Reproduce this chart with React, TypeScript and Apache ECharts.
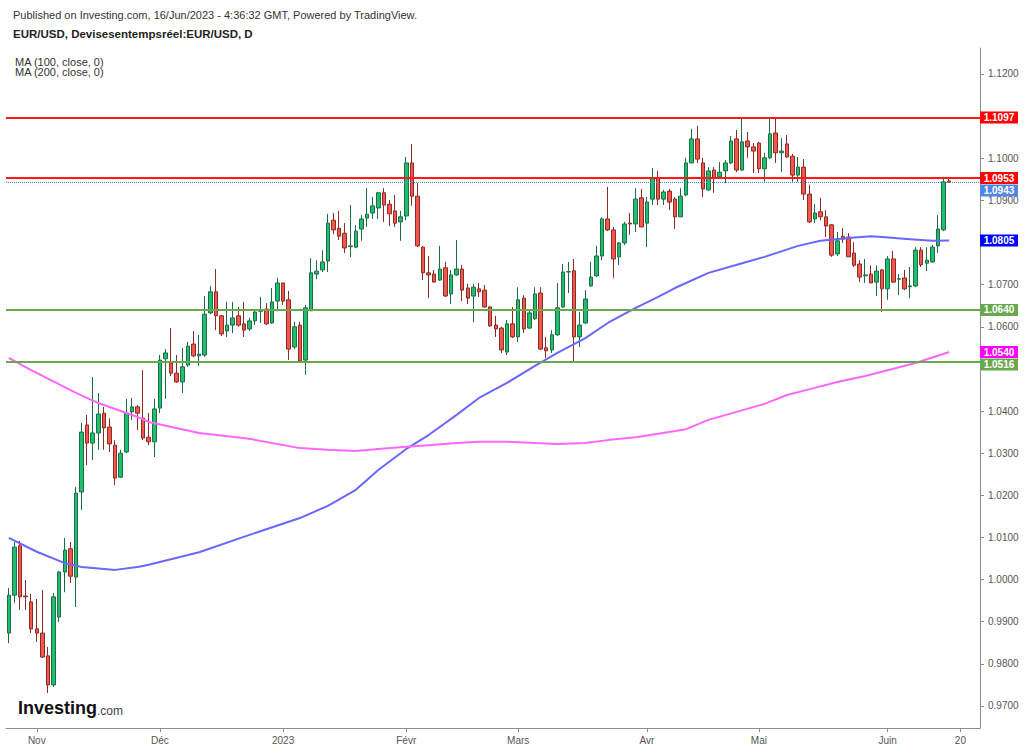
import React, { useEffect, useRef } from "react";
import * as echarts from "echarts";

const FONT = '"Liberation Sans", Arial, sans-serif';

// First trading day drawn and number of empty weekday slots after the last candle
const startDate = "2022-10-25";
const emptySlotsAfter = 5;

// Daily candles: [open, close, low, high]
const candlesOctNov: number[][] = [
  [0.9873, 0.9963, 0.9849, 0.998], [0.9963, 1.0077, 0.9944, 1.0089], [1.008, 0.9959, 0.9928, 1.0092],
  [0.9961, 0.9959, 0.9928, 0.9999], [0.9947, 0.9883, 0.9873, 0.9966], [0.9883, 0.9873, 0.9852, 0.9954],
  [0.9873, 0.9816, 0.9814, 0.9975], [0.9819, 0.975, 0.9731, 0.984], [0.975, 0.9959, 0.9745, 0.9968],
  [0.9911, 1.0018, 0.9899, 1.002], [1.0018, 1.007, 0.997, 1.0099], [1.0073, 1.0008, 0.9992, 1.0089],
  [1.0006, 1.0205, 0.9935, 1.022], [1.0208, 1.035, 1.0165, 1.0372], [1.0367, 1.0324, 1.0272, 1.0391],
  [1.0324, 1.0348, 1.0284, 1.0481], [1.0348, 1.0393, 1.0308, 1.0443], [1.0395, 1.036, 1.0308, 1.041],
  [1.0362, 1.0322, 1.0303, 1.0383], [1.0319, 1.0241, 1.0224, 1.0331], [1.0243, 1.03, 1.0241, 1.0308],
  [1.0303, 1.0395, 1.03, 1.0429], [1.0398, 1.041, 1.0379, 1.0431], [1.041, 1.0395, 1.0355, 1.0414],
  [1.0383, 1.0336, 1.0331, 1.0497], [1.0338, 1.0327, 1.0319, 1.0395], [1.0327, 1.0405, 1.0291, 1.0429],
];
const candlesDec: number[][] = [
  [1.0407, 1.0521, 1.0395, 1.0533], [1.0524, 1.0538, 1.0429, 1.0547], [1.0514, 1.049, 1.0483, 1.0597],
  [1.049, 1.0469, 1.0467, 1.0533], [1.0469, 1.0505, 1.0443, 1.055], [1.0509, 1.0554, 1.0505, 1.0564],
  [1.0559, 1.0531, 1.0528, 1.059], [1.0531, 1.0535, 1.0507, 1.0581], [1.0533, 1.063, 1.0528, 1.0673],
  [1.0633, 1.0683, 1.063, 1.0697], [1.0683, 1.0626, 1.0592, 1.0737], [1.0626, 1.0583, 1.0578, 1.0628],
  [1.059, 1.0604, 1.0576, 1.0659], [1.0604, 1.0621, 1.0585, 1.0659], [1.0626, 1.0604, 1.06, 1.0647],
  [1.0607, 1.0592, 1.0576, 1.0659], [1.0595, 1.0614, 1.059, 1.0621], [1.0614, 1.0635, 1.0604, 1.064],
  [1.0637, 1.0638, 1.0609, 1.0671], [1.0642, 1.0607, 1.0604, 1.0656], [1.0609, 1.0659, 1.0607, 1.0692],
  [1.0661, 1.0704, 1.0637, 1.0716],
];
const candlesJan: number[][] = [
  [1.0704, 1.0661, 1.0652, 1.0704], [1.0664, 1.0547, 1.0521, 1.0685], [1.0552, 1.06, 1.0547, 1.0612],
  [1.0604, 1.0519, 1.0516, 1.0612], [1.0521, 1.0645, 1.0486, 1.0652], [1.0638, 1.0728, 1.0638, 1.0763],
  [1.0725, 1.0732, 1.0713, 1.0758], [1.0735, 1.0754, 1.073, 1.0782], [1.0756, 1.0846, 1.073, 1.0868],
  [1.0853, 1.083, 1.082, 1.087], [1.0834, 1.0815, 1.0806, 1.0875], [1.0822, 1.0787, 1.0775, 1.0846],
  [1.079, 1.0792, 1.0765, 1.0889], [1.0789, 1.0827, 1.0787, 1.0841], [1.0832, 1.0856, 1.0804, 1.0865],
  [1.0858, 1.0867, 1.0837, 1.0929], [1.087, 1.0887, 1.0856, 1.0908], [1.0882, 1.0918, 1.0856, 1.092],
  [1.0918, 1.0889, 1.0849, 1.0929], [1.0891, 1.0868, 1.0839, 1.0901], [1.0875, 1.0846, 1.0837, 1.0913],
  [1.0849, 1.0861, 1.0804, 1.0875],
];
const candlesFeb: number[][] = [
  [1.0863, 1.0989, 1.0853, 1.1003], [1.0989, 1.091, 1.0887, 1.1034], [1.091, 1.0792, 1.0789, 1.0941],
  [1.0789, 1.0728, 1.0711, 1.0792], [1.0728, 1.0723, 1.0668, 1.0768], [1.0725, 1.0706, 1.0706, 1.0735],
  [1.0711, 1.0737, 1.0709, 1.0792], [1.074, 1.0673, 1.0671, 1.0754], [1.0678, 1.0723, 1.0654, 1.0735],
  [1.0723, 1.0737, 1.0721, 1.0806], [1.0737, 1.0687, 1.0661, 1.0747], [1.0692, 1.0668, 1.0654, 1.0702],
  [1.0673, 1.0694, 1.0611, 1.0702], [1.069, 1.0683, 1.0671, 1.0704], [1.0687, 1.0647, 1.0645, 1.0699],
  [1.0647, 1.0602, 1.06, 1.0649], [1.0604, 1.0595, 1.0576, 1.0626], [1.0597, 1.0545, 1.0538, 1.06],
  [1.054, 1.0607, 1.0533, 1.0616], [1.0607, 1.0576, 1.0573, 1.0647],
];
const candlesMar: number[][] = [
  [1.0576, 1.0664, 1.0564, 1.0694], [1.0668, 1.0595, 1.0585, 1.0675], [1.0597, 1.0633, 1.0595, 1.064],
  [1.0619, 1.0678, 1.0616, 1.0694], [1.068, 1.0547, 1.0545, 1.0694], [1.055, 1.0543, 1.0526, 1.0576],
  [1.0545, 1.0581, 1.0538, 1.0592], [1.0581, 1.0645, 1.0578, 1.0704], [1.0647, 1.073, 1.0645, 1.0749],
  [1.073, 1.0731, 1.068, 1.0754], [1.0733, 1.0576, 1.0516, 1.0761], [1.0576, 1.0604, 1.0552, 1.0635],
  [1.0609, 1.0666, 1.0607, 1.0687], [1.0697, 1.0718, 1.0695, 1.0754], [1.0721, 1.0768, 1.0718, 1.0792],
  [1.0768, 1.0856, 1.0758, 1.086], [1.0856, 1.083, 1.0827, 1.0932], [1.083, 1.0761, 1.0716, 1.0837],
  [1.0766, 1.0799, 1.0747, 1.0801], [1.0799, 1.0844, 1.0794, 1.0849], [1.0846, 1.0844, 1.0818, 1.087],
  [1.0844, 1.0903, 1.0825, 1.0929], [1.0906, 1.0837, 1.0837, 1.0927],
];
const candlesApr: number[][] = [
  [1.0846, 1.0896, 1.0789, 1.0908], [1.0903, 1.0953, 1.0889, 1.0977], [1.0953, 1.0903, 1.0889, 1.097],
  [1.0903, 1.092, 1.0889, 1.0925], [1.0922, 1.0896, 1.0877, 1.0927], [1.0903, 1.0861, 1.0832, 1.0908],
  [1.0861, 1.091, 1.0861, 1.0929], [1.0913, 1.0989, 1.091, 1.1001], [1.0989, 1.1046, 1.0989, 1.107],
  [1.1046, 1.0998, 1.0989, 1.1077], [1.0989, 1.0927, 1.0908, 1.1001], [1.0925, 1.097, 1.0922, 1.0979],
  [1.0972, 1.0953, 1.0918, 1.0979], [1.0956, 1.0967, 1.0953, 1.0991], [1.097, 1.0989, 1.0941, 1.0996],
  [1.0989, 1.1041, 1.0986, 1.1053], [1.1046, 1.0972, 1.0967, 1.1067], [1.0972, 1.1039, 1.097, 1.1097],
  [1.1041, 1.1027, 1.1001, 1.1062], [1.1027, 1.1017, 1.0965, 1.1036],
];
const candlesMay: number[][] = [
  [1.1036, 1.0975, 1.0965, 1.1039], [1.0975, 1.1001, 1.0944, 1.1013], [1.1001, 1.1058, 1.0998, 1.1093],
  [1.106, 1.1013, 1.0989, 1.1093], [1.1013, 1.1017, 1.0967, 1.1048], [1.1034, 1.1003, 1.1001, 1.1055],
  [1.1005, 1.096, 1.0944, 1.101], [1.096, 1.0979, 1.0944, 1.1003], [1.0979, 1.0915, 1.0901, 1.0998],
  [1.0915, 1.0849, 1.0846, 1.0937], [1.0856, 1.087, 1.0846, 1.0891], [1.0873, 1.0861, 1.0853, 1.0906],
  [1.0861, 1.0839, 1.0813, 1.0877], [1.0842, 1.077, 1.0766, 1.0844], [1.0773, 1.0804, 1.0768, 1.0825],
  [1.0815, 1.0808, 1.0799, 1.0834], [1.0813, 1.0766, 1.0766, 1.0822], [1.0775, 1.0746, 1.0742, 1.0801],
  [1.0749, 1.0718, 1.0706, 1.0758], [1.0721, 1.0723, 1.0704, 1.0761], [1.0725, 1.0704, 1.0704, 1.0746],
  [1.0706, 1.0732, 1.0673, 1.0746], [1.0735, 1.069, 1.0635, 1.0737],
];
const candlesJun: number[][] = [
  [1.069, 1.0761, 1.0664, 1.0768], [1.0761, 1.0706, 1.0704, 1.078], [1.0713, 1.0714, 1.0675, 1.0725],
  [1.0716, 1.069, 1.0687, 1.0735], [1.0695, 1.0697, 1.0668, 1.0742], [1.0697, 1.0782, 1.0694, 1.0789],
  [1.0782, 1.0747, 1.0742, 1.0789], [1.0751, 1.0758, 1.0732, 1.0789], [1.0754, 1.0789, 1.0752, 1.0794],
  [1.0792, 1.0832, 1.0775, 1.0865], [1.083, 1.0944, 1.0827, 1.0956], [1.0946, 1.0943, 1.0941, 1.0955],
];

// Moving averages: [candle index, value]
const ma100Points: number[][] = [
  [0, 1.0099], [5, 1.0066], [10, 1.0039], [13, 1.003], [19, 1.0023], [23, 1.003], [25, 1.0035],
  [34, 1.0065], [43, 1.0106], [52, 1.0146], [57, 1.0175], [62, 1.0213], [66, 1.026], [71, 1.031],
  [75, 1.0343], [80, 1.0391], [84, 1.0431], [89, 1.0467], [94, 1.0507], [98, 1.0538], [103, 1.0573],
  [107, 1.0609], [112, 1.0645], [116, 1.0671], [119, 1.0692], [125, 1.0728], [131, 1.0751],
  [135, 1.0766], [141, 1.0792], [145, 1.0804], [150, 1.0811], [154, 1.0815], [156, 1.0813],
  [161, 1.0808], [165, 1.0804], [168, 1.0805],
];
const ma200Points: number[][] = [
  [0, 1.0526], [4, 1.0497], [12, 1.0443], [16, 1.0419], [23, 1.0386], [25, 1.0374], [34, 1.0348],
  [43, 1.0334], [52, 1.0312], [57, 1.0308], [62, 1.0305], [66, 1.031], [71, 1.0315], [75, 1.0319],
  [80, 1.0324], [84, 1.0327], [89, 1.0327], [94, 1.0324], [98, 1.0322], [103, 1.0324], [107, 1.0331],
  [112, 1.0338], [116, 1.0346], [121, 1.0357], [125, 1.0379], [130, 1.0398], [135, 1.0417],
  [139, 1.0438], [144, 1.0455], [148, 1.0469], [153, 1.0483], [157, 1.0497], [162, 1.0514], [168, 1.054],
];

// Horizontal levels
const resistanceLevels = [1.1097, 1.0953];
const supportLevels = [1.064, 1.0516];
const lastPrice = 1.0943;
const ma100Last = 1.0805;
const ma200Last = 1.054;

// Axis ticks
const yTickValues = [0.97, 0.98, 0.99, 1.0, 1.01, 1.02, 1.03, 1.04, 1.06, 1.07, 1.09, 1.1, 1.12];
const xTickLabels: Record<string, string> = {
  "2022-11-01": "Nov",
  "2022-12-01": "Déc",
  "2023-01-02": "2023",
  "2023-02-01": "Févr",
  "2023-03-01": "Mars",
  "2023-04-03": "Avr",
  "2023-05-01": "Mai",
  "2023-06-01": "Juin",
  "2023-06-20": "20",
};
const yMin = 0.96477;
const yMax = 1.12617;

const headerLine1 = "Published on Investing.com, 16/Jun/2023 - 4:36:32 GMT, Powered by TradingView.";
const headerLine2 = "EUR/USD, Devisesentempsréel:EUR/USD, D";
const maLegend = ["MA (100, close, 0)", "MA (200, close, 0)"];

const RED = "#ff1a1a";
const GREEN_LEVEL = "#6aa84f";
const LAST_BLUE = "#4f86e8";

function weekdayCategories(start: string, count: number): string[] {
  const out: string[] = [];
  const d = new Date(start + "T00:00:00Z");
  while (out.length < count) {
    const wd = d.getUTCDay();
    if (wd !== 0 && wd !== 6) out.push(d.toISOString().slice(0, 10));
    d.setUTCDate(d.getUTCDate() + 1);
  }
  return out;
}

function toSlots(points: number[][], n: number): (number | null)[] {
  const arr: (number | null)[] = new Array(n).fill(null);
  points.forEach(([i, v]) => {
    arr[i] = v;
  });
  return arr;
}

export default function App() {
  const ref = useRef<HTMLDivElement>(null);

  useEffect(() => {
    if (!ref.current) return;
    const chart = echarts.init(ref.current, undefined, { renderer: "svg" });

    const candles = [
      ...candlesOctNov, ...candlesDec, ...candlesJan, ...candlesFeb,
      ...candlesMar, ...candlesApr, ...candlesMay, ...candlesJun,
    ];
    const categories = weekdayCategories(startDate, candles.length + emptySlotsAfter);
    const n = categories.length;
    const showTick = (_i: number, v: string) => Object.prototype.hasOwnProperty.call(xTickLabels, v);

    const gridLeft = 6;
    const gridRight = 44;

    chart.setOption({
      animation: false,
      backgroundColor: "#ffffff",
      textStyle: { fontFamily: FONT },
      grid: { left: gridLeft, right: gridRight, top: 48, bottom: 21 },
      xAxis: {
        type: "category",
        data: categories,
        boundaryGap: true,
        axisLine: { lineStyle: { color: "#8c8c8c", width: 1 } },
        axisTick: { show: true, alignWithLabel: true, interval: showTick, length: 4, lineStyle: { color: "#8c8c8c" } },
        axisLabel: {
          interval: showTick,
          formatter: (v: string) => xTickLabels[v] ?? "",
          color: "#555555",
          fontSize: 10,
          fontFamily: FONT,
          margin: 7,
        },
        splitLine: { show: false },
      },
      yAxis: {
        type: "value",
        position: "right",
        min: yMin,
        max: yMax,
        scale: true,
        axisLine: { show: true, lineStyle: { color: "#8c8c8c", width: 1 } },
        axisTick: { show: true, customValues: yTickValues, length: 4, lineStyle: { color: "#8c8c8c" } },
        axisLabel: {
          customValues: yTickValues,
          formatter: (v: number) => v.toFixed(4),
          color: "#555555",
          fontSize: 10,
          fontFamily: FONT,
          margin: 8,
        },
        splitLine: { show: false },
      },
      series: [
        {
          type: "line",
          data: [],
          silent: true,
          markLine: {
            silent: true,
            precision: 6,
            symbol: ["none", "none"],
            label: { show: false },
            animation: false,
            data: [
              ...resistanceLevels.map((v) => ({ yAxis: v, lineStyle: { color: RED, width: 2, type: "solid" } })),
              ...supportLevels.map((v) => ({ yAxis: v, lineStyle: { color: GREEN_LEVEL, width: 2, type: "solid" } })),
              { yAxis: lastPrice, lineStyle: { color: LAST_BLUE, width: 1, type: "dotted" } },
            ],
          },
          z: 1,
        },
        {
          type: "candlestick",
          data: candles,
          barWidth: "72%",
          itemStyle: {
            color: "#1fbf70",
            color0: "#f2574b",
            borderColor: "#1f6b45",
            borderColor0: "#8e2a24",
            borderWidth: 1,
          },
          z: 2,
        },
        {
          type: "line",
          data: toSlots(ma100Points, n),
          connectNulls: true,
          showSymbol: false,
          symbol: "none",
          silent: true,
          lineStyle: { color: "#6868ff", width: 2 },
          z: 3,
        },
        {
          type: "line",
          data: toSlots(ma200Points, n),
          connectNulls: true,
          showSymbol: false,
          symbol: "none",
          silent: true,
          lineStyle: { color: "#ff66ff", width: 2 },
          z: 3,
        },
      ],
    });

    // Price boxes on the right axis, stacked so they do not overlap
    const boxH = 12;
    const axisX = chart.getWidth() - gridRight;
    const boxes = [
      { value: resistanceLevels[0], color: "#ff0000" },
      { value: resistanceLevels[1], color: "#ff0000" },
      { value: lastPrice, color: LAST_BLUE },
      { value: ma100Last, color: "#0000ff" },
      { value: supportLevels[0], color: GREEN_LEVEL },
      { value: ma200Last, color: "#ff00ff" },
      { value: supportLevels[1], color: GREEN_LEVEL },
    ]
      .map((b) => ({ ...b, y: chart.convertToPixel({ yAxisIndex: 0 }, b.value) as number }))
      .sort((a, b) => a.y - b.y);
    let prevBottom = -Infinity;
    const boxEls: any[] = [];
    boxes.forEach((b) => {
      let cy = b.y;
      if (cy - boxH / 2 < prevBottom) cy = prevBottom + boxH / 2 + 0.5;
      prevBottom = cy + boxH / 2;
      boxEls.push({
        type: "rect",
        shape: { x: axisX, y: cy - boxH / 2, width: 38, height: boxH },
        style: { fill: b.color },
        z: 100,
      });
      boxEls.push({
        type: "text",
        x: axisX + 19,
        y: cy,
        style: {
          text: b.value.toFixed(4),
          fill: "#ffffff",
          fontSize: 10,
          fontWeight: "bold",
          fontFamily: FONT,
          align: "center",
          verticalAlign: "middle",
        },
        z: 101,
      });
    });

    chart.setOption({
      graphic: [
        {
          type: "text",
          x: 13,
          y: 15,
          style: { text: headerLine1, fill: "#333333", fontSize: 11, fontFamily: FONT, verticalAlign: "middle" },
        },
        {
          type: "text",
          x: 13,
          y: 34,
          style: { text: headerLine2, fill: "#222222", fontSize: 11.5, fontWeight: "bold", fontFamily: FONT, verticalAlign: "middle" },
        },
        {
          type: "text",
          x: 15,
          y: 62,
          style: { text: maLegend[0], fill: "#333333", fontSize: 11, fontFamily: FONT, verticalAlign: "middle" },
        },
        {
          type: "text",
          x: 15,
          y: 72,
          style: { text: maLegend[1], fill: "#333333", fontSize: 11, fontFamily: FONT, verticalAlign: "middle" },
        },
        {
          type: "text",
          x: 18,
          y: 708,
          style: {
            text: "{a|Investing}{b|.com}",
            verticalAlign: "middle",
            rich: {
              a: { fontSize: 18, fontWeight: "bold", fill: "#111111", fontFamily: FONT },
              b: { fontSize: 12, fill: "#444444", fontFamily: FONT, padding: [5, 0, 0, 0] },
            },
          },
          z: 50,
        },
        ...boxEls,
      ],
    });

    return () => chart.dispose();
  }, []);

  return (
    <div
      ref={ref}
      style={{ position: "fixed", left: 0, top: 0, width: 1024, height: 749, background: "#ffffff" }}
    />
  );
}
